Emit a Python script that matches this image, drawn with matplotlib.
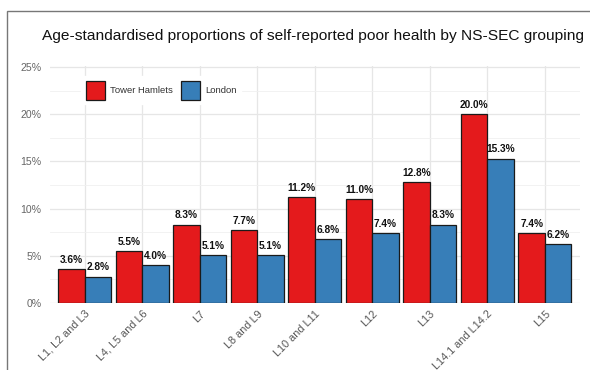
import matplotlib
matplotlib.use("Agg")
import matplotlib.pyplot as plt
import numpy as np
from matplotlib.patches import Rectangle

plt.rcParams['font.family'] = ['Liberation Sans', 'DejaVu Sans']

categories = ["L1, L2 and L3", "L4, L5 and L6", "L7", "L8 and L9", "L10 and L11",
              "L12", "L13", "L14.1 and L14.2", "L15"]
tower_hamlets = [3.6, 5.5, 8.3, 7.7, 11.2, 11.0, 12.8, 20.0, 7.4]
london = [2.8, 4.0, 5.1, 5.1, 6.8, 7.4, 8.3, 15.3, 6.2]
series_names = ["Tower Hamlets", "London"]
colors = ["#E41A1C", "#377EB8"]
yticks = [0, 5, 10, 15, 20, 25]
title = "Age-standardised proportions of self-reported poor health by NS-SEC grouping"

W, H = 590, 370
fig = plt.figure(figsize=(W/100, H/100), dpi=100)
fig.patch.set_facecolor("white")
# outer frame
fig.add_artist(Rectangle((7/W, -0.1), 1.2, (H - 11)/H + 0.1, transform=fig.transFigure,
                         fill=False, edgecolor="#777777", linewidth=1.0))

ax = fig.add_axes([50/W, 1 - 303/H, (579.5 - 50)/W, (303 - 66)/H])
x = np.arange(len(categories))
bw = 0.46
ax.bar(x - bw/2, tower_hamlets, bw, color=colors[0], edgecolor="#1a1a1a", linewidth=0.9,
       label=series_names[0], zorder=3)
ax.bar(x + bw/2, london, bw, color=colors[1], edgecolor="#1a1a1a", linewidth=0.9,
       label=series_names[1], zorder=3)
for xi, v in zip(x, tower_hamlets):
    ax.text(xi - bw/2, v + 0.45, f"{v:.1f}%", ha="center", va="bottom", fontsize=7.3,
            fontweight="bold", color="#111111", zorder=4)
for xi, v in zip(x, london):
    ax.text(xi + bw/2, v + 0.45, f"{v:.1f}%", ha="center", va="bottom", fontsize=7.3,
            fontweight="bold", color="#111111", zorder=4)

ax.set_xlim(-0.6, len(categories) - 0.4)
ax.set_ylim(0, 25.1)
ax.set_yticks(yticks)
ax.set_yticklabels([f"{t}%" for t in yticks])
ax.set_yticks(np.arange(2.5, 25, 5), minor=True)
ax.set_xticks(x)
ax.set_xticklabels(categories, rotation=45, ha="right", rotation_mode="anchor")
ax.tick_params(axis="x", length=0, labelsize=7.8, labelcolor="#555555", pad=4)
ax.tick_params(axis="y", which="both", length=0, labelsize=7.6, labelcolor="#666666", pad=6)
ax.grid(True, which="major", color="#e6e6e6", linewidth=0.9, zorder=0)
ax.grid(True, which="minor", axis="y", color="#f0f0f0", linewidth=0.6, zorder=0)
ax.set_axisbelow(True)
for s in ax.spines.values():
    s.set_visible(False)

leg = ax.legend(loc="upper left", bbox_to_anchor=(31/529.5, (303 - 76)/237), ncol=2, frameon=True,
                fontsize=6.8, handlelength=2.0, handleheight=2.7, columnspacing=0.8,
                borderpad=0.5, handletextpad=0.6, borderaxespad=0)
leg.get_frame().set_edgecolor("white")
leg.get_frame().set_facecolor("white")
leg.get_frame().set_alpha(1)
leg.get_frame().set_boxstyle("square", pad=0)
for t in leg.get_texts():
    t.set_color("#333333")

ttl = fig.text(42/W, 1 - 40/H, title, ha="left", va="baseline", fontsize=12, color="#111111")
fig.canvas.draw()
bb = ttl.get_window_extent()
ttl.set_fontsize(12 * 543 / bb.width)

fig.savefig("out.png", dpi=100)
